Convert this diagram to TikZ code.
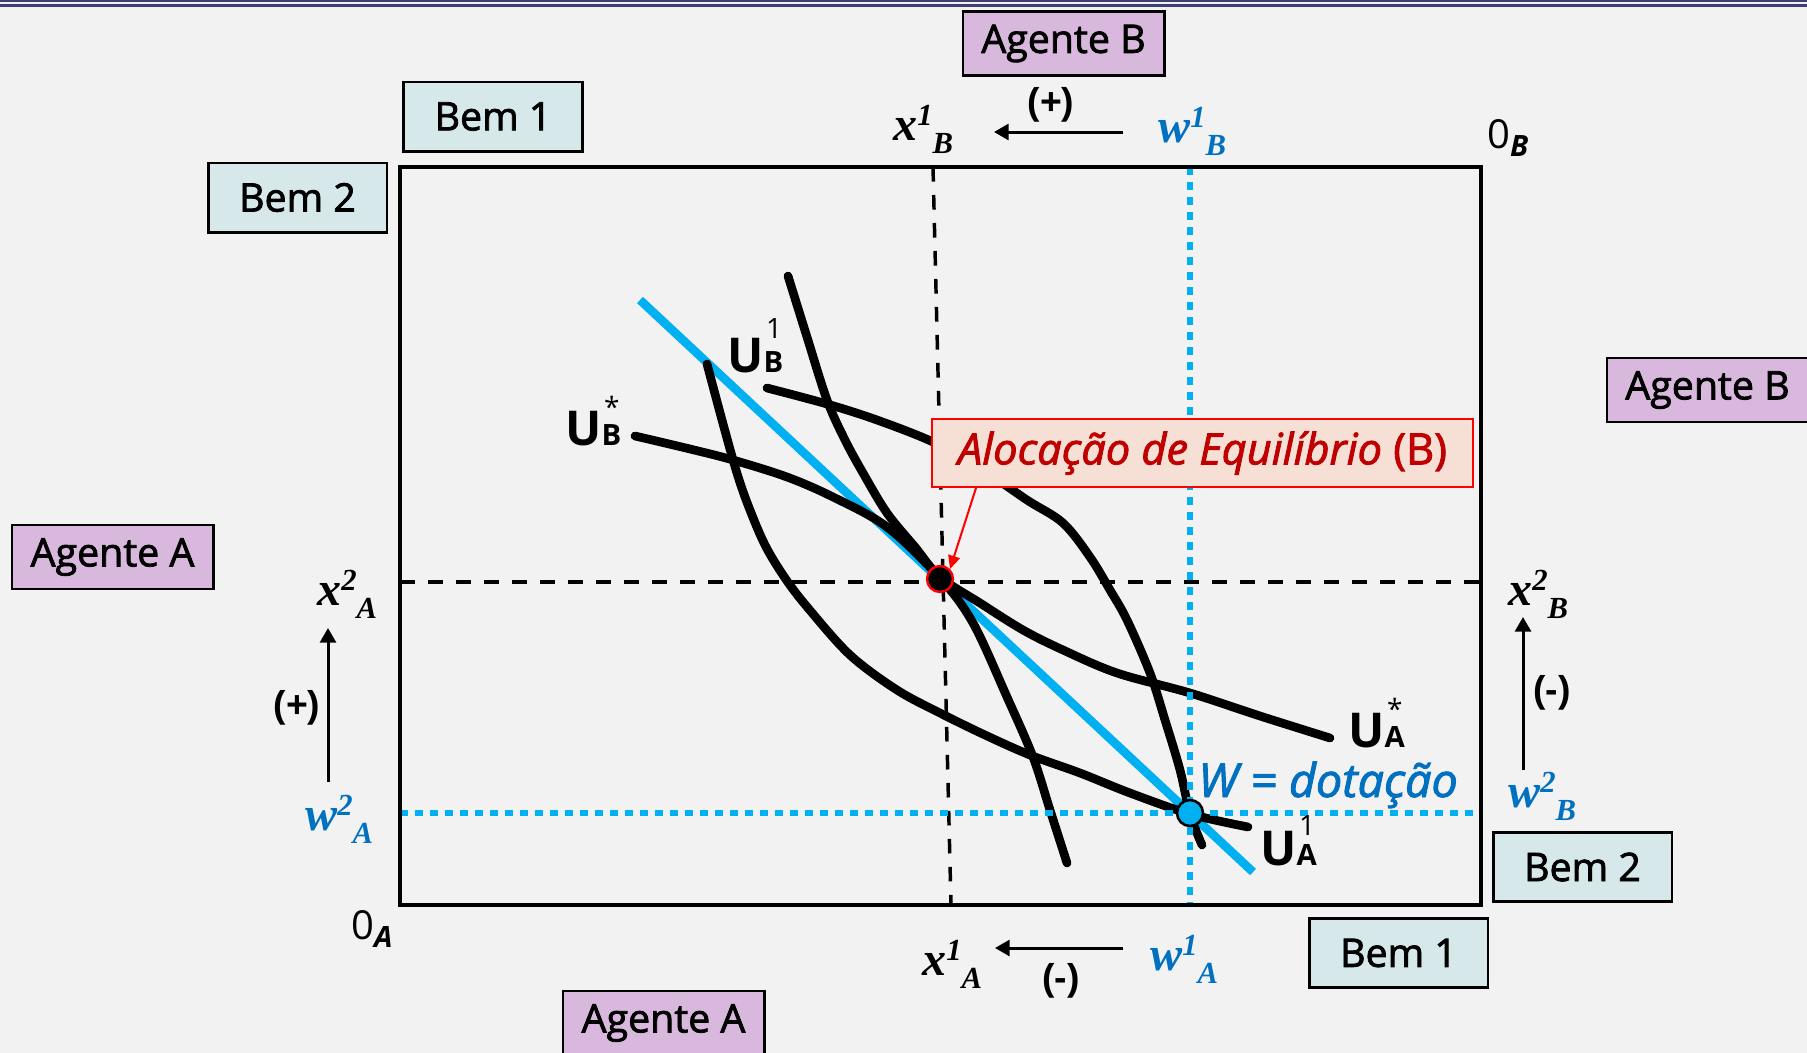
\documentclass[tikz,border=0pt]{standalone}
\usepackage{fontspec}
\setmainfont{Open Sans}
\newfontfamily\semi{Open Sans}[FakeBold=2]
\newfontfamily\tnr{Liberation Serif}
\newfontfamily\arl{Liberation Sans}
\usetikzlibrary{arrows.meta,calc}
\definecolor{bgc}{HTML}{F2F2F2}
\definecolor{cyanl}{HTML}{00B0F0}
\definecolor{bluet}{HTML}{0070C0}
\definecolor{redl}{HTML}{FF0000}
\definecolor{redt}{HTML}{C00000}
\definecolor{callfill}{RGB}{246,224,214}
\definecolor{agfill}{RGB}{217,184,221}
\definecolor{bemfill}{RGB}{214,232,234}
\definecolor{navyl}{RGB}{64,64,112}
\newcommand{\mlab}[3]{{\tnr\bfseries\itshape\fontsize{36}{36}\selectfont #1\raisebox{11pt}{\fontsize{23}{23}\selectfont #2}\raisebox{-10pt}{\fontsize{23}{23}\selectfont #3}}}
\newcommand{\ulab}[3]{{\fontsize{36}{36}\selectfont\bfseries U\rlap{\hspace{2pt}\raisebox{#3}{\fontsize{21}{21}\selectfont\mdseries #2}}{\fontsize{22}{22}\selectfont #1}}}
\newcommand{\zlab}[1]{{\fontsize{30}{30}\selectfont 0\raisebox{-6pt}{\fontsize{22}{22}\selectfont\bfseries\itshape #1}}}
\tikzset{
  agbox/.style={draw=black, line width=2pt, fill=agfill, minimum width=151pt, minimum height=48pt, inner sep=0pt, font=\semi\fontsize{29.5}{29.5}\selectfont},
  bembox/.style={draw=black, line width=2pt, fill=bemfill, minimum width=134pt, minimum height=52pt, inner sep=0pt, font=\semi\fontsize{29.5}{29.5}\selectfont},
  icurve/.style={line width=6.5pt, line cap=round, line join=round},
  budget/.style={cyanl, line width=6.5pt},
  dashl/.style={line width=2.6pt, dash pattern=on 11pt off 10pt},
  dotl/.style={cyanl, line width=4.5pt, dash pattern=on 6pt off 5.25pt},
  dirarrow/.style={line width=2.25pt, -{Triangle[length=11pt,width=12pt]}},
  sign/.style={font=\arl\bfseries\fontsize{28}{28}\selectfont, inner sep=0pt},
  mathlab/.style={anchor=base west, inner sep=0pt},
  callout/.style={draw=redl, line width=1.5pt, fill=callfill, text=redt, minimum width=405.75pt, minimum height=51pt, inner sep=0pt, font=\semi\fontsize{32.5}{32.5}\selectfont},
  eqdot/.style={circle, fill=black, draw=redl, line width=1.8pt, minimum size=19.5pt, inner sep=0pt},
  wdot/.style={circle, fill=cyanl, draw=black, line width=1.9pt, minimum size=19.5pt, inner sep=0pt},
  redarrow/.style={redl, line width=1.5pt, -{Triangle[length=10pt,width=9pt]}},
  wtext/.style={anchor=base west, inner sep=0pt, text=bluet, font=\semi\itshape\fontsize{35}{35}\selectfont}
}
\begin{document}
\begin{tikzpicture}[x=0.75pt,y=-0.75pt]
\fill[bgc] (0,0) rectangle (1807,1053);
\useasboundingbox (0,0) rectangle (1807,1053);
\draw[navyl, line width=1.5pt] (0,1) -- (1807,1);
\draw[navyl, line width=2.25pt] (0,5.5) -- (1807,5.5);
% key points
\coordinate (oA) at (400,905);
\coordinate (oB) at (1481,167);
\coordinate (eqpt) at (940,579);
\coordinate (wpt) at (1190,813);
\coordinate (bl1) at (640,300);
\coordinate (bl2) at (1253,872);
% budget line
\draw[budget] (bl1) -- (bl2);
% indifference curves
\draw[icurve] plot[smooth, tension=0.55] coordinates {(707,364) (722,420) (736,470) (748,505) (765,545) (785,578) (808,608) (850,655) (897,690) (940,713) (985,735) (1030,755) (1080,773) (1130,793) (1190,814) (1248,827)};
\draw[icurve] plot[smooth, tension=0.55] coordinates {(767,388) (827,404) (877,420) (933,442) (980,468) (1027,500) (1063,523) (1090,557) (1110,590) (1127,620) (1150,673) (1165,720) (1180,770) (1190,814) (1202,845)};
\draw[icurve] plot[smooth, tension=0.55] coordinates {(788,276) (807,337) (827,400) (845,440) (863,473) (887,513) (915,547) (940,577) (980,603) (1023,630) (1063,650) (1117,673) (1190,693) (1260,716) (1330,738)};
\draw[icurve] plot[smooth, tension=0.55] coordinates {(635,436) (690,449) (733,460) (787,477) (833,497) (887,527) (940,578) (973,623) (1007,697) (1033,757) (1050,810) (1067,863)};
% guide lines
\draw[dashl] (400,582) -- (1481,582);
\draw[dashl] (933,167) -- (951,905);
\draw[dotl] (400,813) -- (1481,813);
\draw[dotl] (1190,167) -- (1190,905);
% main box
\draw[line width=3.4pt] (oA) rectangle (oB);
% callout
\node[callout] (call) at (1202.5,453) {\itshape Alocação de Equilíbrio\upshape{} (B)};
% points
\node[eqdot] (eq) at (eqpt) {};
\node[wdot] (w) at (wpt) {};
\draw[redarrow] ($(call.south west)+(45,0)$) -- (eq.north east);
% boxes
\node[agbox] (agBtop) at (1063.5,43.5) {Agente B};
\node[bembox] (bem1tl) at (493,116.5) {Bem 1\hspace{8pt}};
\node[bembox] (bem2l) at (297.5,197.5) {Bem 2};
\node[agbox] (agBr) at (1707.5,390) {Agente B};
\node[agbox] (agAl) at (112.5,557) {Agente A};
\node[bembox] (bem2r) at (1582.5,867) {Bem 2};
\node[bembox] (bem1b) at (1398.5,953) {Bem 1};
\node[agbox] (agAb) at (663.5,1023) {Agente A};
% axis labels
\node[mathlab] (x1B) at (893,140) {\mlab{x}{1}{B}};
\node[mathlab, text=bluet] (w1B) at (1158,142) {\mlab{w}{1}{B}};
\node[mathlab] (x2A) at (317,605) {\mlab{x}{2}{A}};
\node[mathlab, text=bluet] (w2A) at (305,830) {\mlab{w}{2}{A}};
\node[mathlab] (x2B) at (1508,605) {\mlab{x}{2}{B}};
\node[mathlab, text=bluet] (w2B) at (1508,807) {\mlab{w}{2}{B}};
\node[mathlab] (x1A) at (922,975) {\mlab{x}{1}{A}};
\node[mathlab, text=bluet] (w1A) at (1150,970) {\mlab{w}{1}{A}};
\node[mathlab] (zB) at (1487,148) {\zlab{B}};
\node[mathlab] (zA) at (351,939) {\zlab{A}};
% direction arrows
\coordinate (a1s) at (1123,132); \coordinate (a1e) at (994,132);
\coordinate (a2s) at (1123,948); \coordinate (a2e) at (995,948);
\coordinate (a3s) at (328,782); \coordinate (a3e) at (328,628);
\coordinate (a4s) at (1523,770); \coordinate (a4e) at (1523,617);
\draw[dirarrow] (a1s) -- (a1e);
\draw[dirarrow] (a2s) -- (a2e);
\draw[dirarrow] (a3s) -- (a3e);
\draw[dirarrow] (a4s) -- (a4e);
\node[sign] (s1) at (1051,105) {(+)};
\node[sign] (s2) at (297,708) {(+)};
\node[sign] (s3) at (1552,693) {(-)};
\node[sign] (s4) at (1061,981) {(-)};
% curve labels
\node[mathlab] (uB1) at (727,372) {\ulab{B}{1}{25pt}};
\node[mathlab] (uBs) at (565,445) {\ulab{B}{*}{21pt}};
\node[mathlab] (uAs) at (1348,747) {\ulab{A}{*}{21pt}};
\node[mathlab] (uA1) at (1260,865) {\ulab{A}{1}{22pt}};
\node[wtext] (wlab) at (1198,797) {W = dotação};
\end{tikzpicture}
\end{document}
